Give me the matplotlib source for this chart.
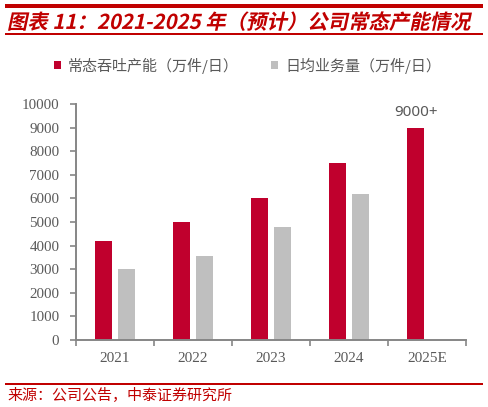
import matplotlib
matplotlib.use("Agg")
import matplotlib.pyplot as plt
import numpy as np
from matplotlib.font_manager import FontProperties
from matplotlib.patches import PathPatch, Rectangle
from matplotlib.textpath import TextPath
from matplotlib.transforms import Affine2D

# data
years = ["2021", "2022", "2023", "2024", "2025E"]
capacity = [4200, 5000, 6000, 7500, 9000]      # 常态吞吐产能（万件/日）
volume = [3000, 3550, 4800, 6200, np.nan]      # 日均业务量（万件/日）
capacity_label = "常态吞吐产能（万件/日）"
volume_label = "日均业务量（万件/日）"
title = "图表 11：2021-2025 年（预计）公司常态产能情况"
source = "来源：公司公告，中泰证券研究所"
note = "9000+"

RED = "#C0002D"
GREY = "#BFBFBF"
LINE_RED = "#C00000"
TXT = "#595959"
AXIS = "#868686"

W, H = 488, 407
fig = plt.figure(figsize=(W / 100, H / 100), dpi=100)
ax = fig.add_axes([76 / W, (H - 340) / H, 390 / W, 236 / H])

x = np.arange(len(years))
off, bw = 0.145, 0.225
ax.bar(x - off, capacity, bw, color=RED, label=capacity_label)
ax.bar(x + off, volume, bw, color=GREY, label=volume_label)

ax.set_xlim(-0.5, len(years) - 0.5)
ax.set_ylim(0, 10000)
ax.set_yticks(np.arange(0, 10001, 1000))

# boundaries get the tick marks, centres get the labels
ax.set_xticks(np.arange(-0.5, len(years)), labels=[""] * (len(years) + 1))
ax.set_xticks(x, labels=years, minor=True)
ax.tick_params(axis="x", which="minor", length=0, pad=9,
               labelsize=11, labelcolor=TXT)
ax.tick_params(axis="x", which="major", length=4, width=1.2, color=AXIS)
ax.tick_params(axis="y", length=4, width=1.2, color=AXIS, pad=8,
               labelsize=10.8, labelcolor=TXT)
for lab in ax.get_xticklabels(minor=True) + ax.get_yticklabels():
    lab.set_fontfamily("Liberation Serif")

for s in ["top", "right"]:
    ax.spines[s].set_visible(False)
for s in ["left", "bottom"]:
    ax.spines[s].set_color(AXIS)
    ax.spines[s].set_linewidth(1.4)

ax.annotate(note, (x[-1] - off, capacity[-1]), xytext=(0, 8),
            textcoords="offset points", ha="center", va="baseline",
            fontsize=11, color=TXT, family="Noto Sans")

leg = fig.legend(loc="center left", bbox_to_anchor=(40.5 / W, 1 - 65.5 / H),
                 ncol=2, frameon=False, handlelength=0.47, handleheight=0.47,
                 handletextpad=0.47, columnspacing=2.15,
                 prop=FontProperties(family=["Noto Sans CJK SC"], size=10.8))
for t in leg.get_texts():
    t.set_color(TXT)

# header rules
fig.add_artist(Rectangle((5 / W, 1 - 7.5 / H), 478 / W, 3 / H,
                         transform=fig.transFigure, color=LINE_RED, lw=0))
fig.add_artist(Rectangle((5 / W, 1 - 34.5 / H), 478 / W, 1.2 / H,
                         transform=fig.transFigure, color=LINE_RED, lw=0))
fig.add_artist(Rectangle((5 / W, 1 - 384.5 / H), 478 / W, 1.2 / H,
                         transform=fig.transFigure, color=LINE_RED, lw=0))

# slanted bold title (CJK fonts have no italic face)
fp = FontProperties(family="Noto Sans CJK SC", weight="bold")
tp = TextPath((0, 0), title, size=10, prop=fp)
skew = Affine2D().skew_deg(12, 0)
ext = tp.transformed(skew).get_extents()
sc = (472 - 8) / ext.width
tr = (Affine2D().skew_deg(12, 0).translate(-ext.x0, -ext.y0).scale(sc)
      .translate(8, H - 31))
fig.add_artist(PathPatch(tp, transform=tr, color=LINE_RED, lw=0))

fig.text(7 / W, 1 - 395 / H, source, ha="left", va="center",
         color=LINE_RED, fontsize=10.8, family=["Noto Sans CJK SC"])

fig.savefig("out.png", dpi=100)
